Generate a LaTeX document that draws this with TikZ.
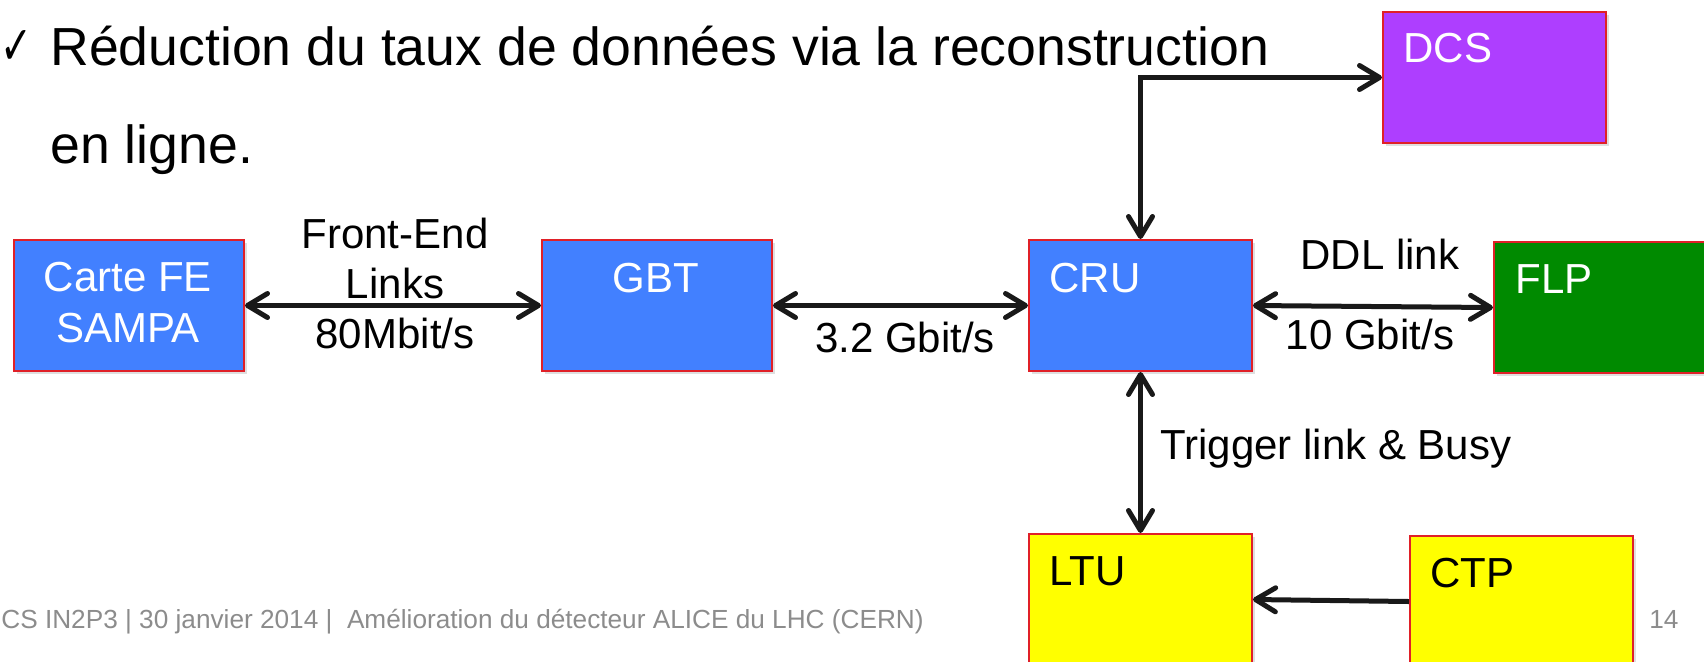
\documentclass[tikz,border=0pt]{standalone}
\usepackage{graphicx}
\usepackage{fontspec}
\setmainfont{Liberation Sans}
\newfontfamily\symfont{DejaVu Sans}
\usetikzlibrary{arrows.meta,shadows}
\definecolor{crublue}{RGB}{66,128,255}
\definecolor{dcspurple}{RGB}{174,62,255}
\definecolor{flpgreen}{RGB}{0,138,0}
\definecolor{ltuyellow}{RGB}{255,255,0}
\definecolor{boxred}{RGB}{224,32,40}
\definecolor{footgray}{RGB}{140,140,140}
\begin{document}
\begin{tikzpicture}[x=0.5pt,y=-0.5pt,
	blk/.style={draw=boxred,line width=1pt,anchor=north west,minimum width=111.5pt,minimum height=65.5pt,inner sep=0pt,drop shadow={shadow xshift=1.5pt,shadow yshift=-1.5pt,opacity=.25}},
	blktxt/.style={font=\fontsize{21}{25.5}\selectfont,inner sep=0pt,align=center},
	lbl/.style={font=\fontsize{21}{25}\selectfont,inner sep=0pt,align=center},
	bigtxt/.style={font=\fontsize{26.8}{32}\selectfont,inner sep=0pt,anchor=base west},
	foot/.style={font=\fontsize{13.1}{16}\selectfont,text=footgray,inner sep=0pt},
	link/.style={line width=2.5pt,draw=black!90,{Straight Barb[length=10pt,width=12pt,round]}-{Straight Barb[length=10pt,width=12pt,round]}},
	linkone/.style={line width=2.5pt,draw=black!90,-{Straight Barb[length=10pt,width=12pt,round]}}]
	\clip (0,0) rectangle (1704,661);
	% bullet text
	\node[inner sep=0pt,anchor=west] (chk) at (0,47) {\resizebox{16pt}{17pt}{\symfont ✓}};
	\node[bigtxt] (ttl) at (50,65) {Réduction du taux de données via la reconstruction};
	\node[bigtxt] (ttlb) at (50,163) {en ligne.};
	% blocks
	\node[blk,fill=crublue,minimum width=115pt] (fe) at (13,239) {};
	\node[blk,fill=crublue,minimum width=115pt] (gbt) at (541,239) {};
	\node[blk,fill=crublue] (cru) at (1028,239) {};
	\node[blk,fill=flpgreen] (flp) at (1493,241) {};
	\node[blk,fill=dcspurple] (dcs) at (1382,11) {};
	\node[blk,fill=ltuyellow] (ltu) at (1028,533) {};
	\node[blk,fill=ltuyellow] (ctp) at (1409,535) {};
	\node[blktxt,text=white,anchor=north] (fet) at (128,262) {Carte FE\\SAMPA};
	\node[blktxt,text=white,anchor=base] (gbtt) at (656,292) {GBT};
	\node[blktxt,text=white,anchor=base west] (crut) at ([shift={(21,53)}]cru.north west) {CRU};
	\node[blktxt,text=white,anchor=base west] (flpt) at ([shift={(22,52)}]flp.north west) {FLP};
	\node[blktxt,text=white,anchor=base west] (dcst) at ([shift={(21,51)}]dcs.north west) {DCS};
	\node[blktxt,anchor=base west] (ltut) at ([shift={(21,52)}]ltu.north west) {LTU};
	\node[blktxt,anchor=base west] (ctpt) at ([shift={(21,52)}]ctp.north west) {CTP};
	% links
	\draw[link] (fe.east) -- (gbt.west);
	\draw[link] (gbt.east) -- (cru.west);
	\draw[link] (cru.east) -- (flp.west);
	\draw[link] (cru.north) |- (dcs.west);
	\draw[link] (cru.south) -- (ltu.north);
	\draw[linkone] (ctp.west) -- (ltu.east);
	\node[lbl,anchor=north] (fel) at (395,218) {Front-End\\Links\\80Mbit/s};
	\node[lbl,anchor=base] (gbl) at (905,352) {3.2 Gbit/s};
	\node[lbl,anchor=base] (ddl) at (1380,269) {DDL link};
	\node[lbl,anchor=base] (ddlr) at (1370,349) {10 Gbit/s};
	\node[lbl,anchor=base west] (trg) at (1160,459) {Trigger link \& Busy};
	% footer
	\node[foot,anchor=base west] (ft) at (1,628) {CS IN2P3 | 30 janvier 2014 |\ \ Amélioration du détecteur ALICE du LHC (CERN)};
	\node[foot,anchor=base west] (pg) at (1649,628) {14};
\end{tikzpicture}
\end{document}
